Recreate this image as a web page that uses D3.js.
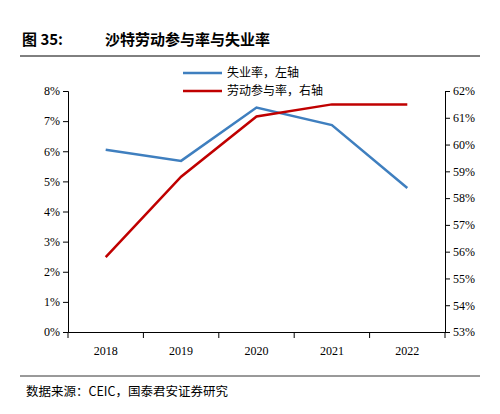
<!DOCTYPE html>
<html><head><meta charset="utf-8">
<script src="https://cdn.jsdelivr.net/npm/d3@7"></script>
<style>body{margin:0;background:#fff}</style></head>
<body><svg id="c" width="500" height="414"></svg>
<script>
const years=["2018","2019","2020","2021","2022"];
const unemp=[6.05,5.68,7.45,6.87,4.78];
const lfpr=[55.8,58.8,61.05,61.5,61.5];
const leftTicks=[0,1,2,3,4,5,6,7,8];
const rightTicks=[53,54,55,56,57,58,59,60,61,62];
const svg=d3.select("#c");
const font="'Noto Sans CJK SC', sans-serif";
svg.append("text").attr("x",22).attr("y",45).attr("font-family",font).attr("font-weight","bold").attr("font-size",15).text("图 35:");
svg.append("text").attr("x",105).attr("y",45).attr("font-family",font).attr("font-weight","bold").attr("font-size",15).text("沙特劳动参与率与失业率");
svg.append("line").attr("x1",20).attr("x2",480).attr("y1",56).attr("y2",56).attr("stroke","#000").attr("stroke-width",1);
const x=d3.scaleBand().domain(years).range([68,445]);
const yL=d3.scaleLinear().domain([0,8]).range([332,91]);
const yR=d3.scaleLinear().domain([53,62]).range([332,91]);
const fs=12;
const gx=svg.append("g").attr("transform","translate(0,332)").call(d3.axisBottom(x).tickSize(0).tickPadding(14));
gx.selectAll("text").attr("font-family","'Times New Roman','Liberation Serif',serif").attr("font-size",fs);
gx.select(".domain").attr("stroke","#000");
svg.append("g").selectAll("line").data(d3.range(years.length+1)).join("line")
 .attr("x1",i=>68+i*x.step()).attr("x2",i=>68+i*x.step()).attr("y1",332).attr("y2",338).attr("stroke","#000");
const gl=svg.append("g").attr("transform","translate(68,0)").call(d3.axisLeft(yL).tickValues(leftTicks).tickFormat(d=>d+"%").tickSize(5));
const gr=svg.append("g").attr("transform","translate(445,0)").call(d3.axisRight(yR).tickValues(rightTicks).tickFormat(d=>d+"%").tickSize(5));
[gl,gr].forEach(g=>{g.selectAll("text").attr("font-family","'Times New Roman','Liberation Serif',serif").attr("font-size",fs).attr("fill","#000");g.select(".domain").attr("stroke","#000");g.selectAll(".tick line").attr("stroke","#000");});
const cx=d=>x(d)+x.bandwidth()/2;
svg.append("path").datum(years.map((y,i)=>[cx(y),yL(unemp[i])])).attr("d",d3.line()).attr("fill","none").attr("stroke","#3F7FBF").attr("stroke-width",2.5);
svg.append("path").datum(years.map((y,i)=>[cx(y),yR(lfpr[i])])).attr("d",d3.line()).attr("fill","none").attr("stroke","#C00000").attr("stroke-width",2.5);
const leg=[["失业率，左轴","#3F7FBF",73],["劳动参与率，右轴","#C00000",91]];
leg.forEach(([t,c,y])=>{svg.append("line").attr("x1",183).attr("x2",222).attr("y1",y).attr("y2",y).attr("stroke",c).attr("stroke-width",2.5);
svg.append("text").attr("x",227).attr("y",y+4).attr("font-family",font).attr("font-size",12).text(t);});
svg.append("line").attr("x1",20).attr("x2",480).attr("y1",376).attr("y2",376).attr("stroke","#000").attr("stroke-width",0.8);
svg.append("text").attr("x",26).attr("y",396).attr("font-family",font).attr("font-size",12.5).text("数据来源：CEIC，国泰君安证券研究");
</script></body></html>
